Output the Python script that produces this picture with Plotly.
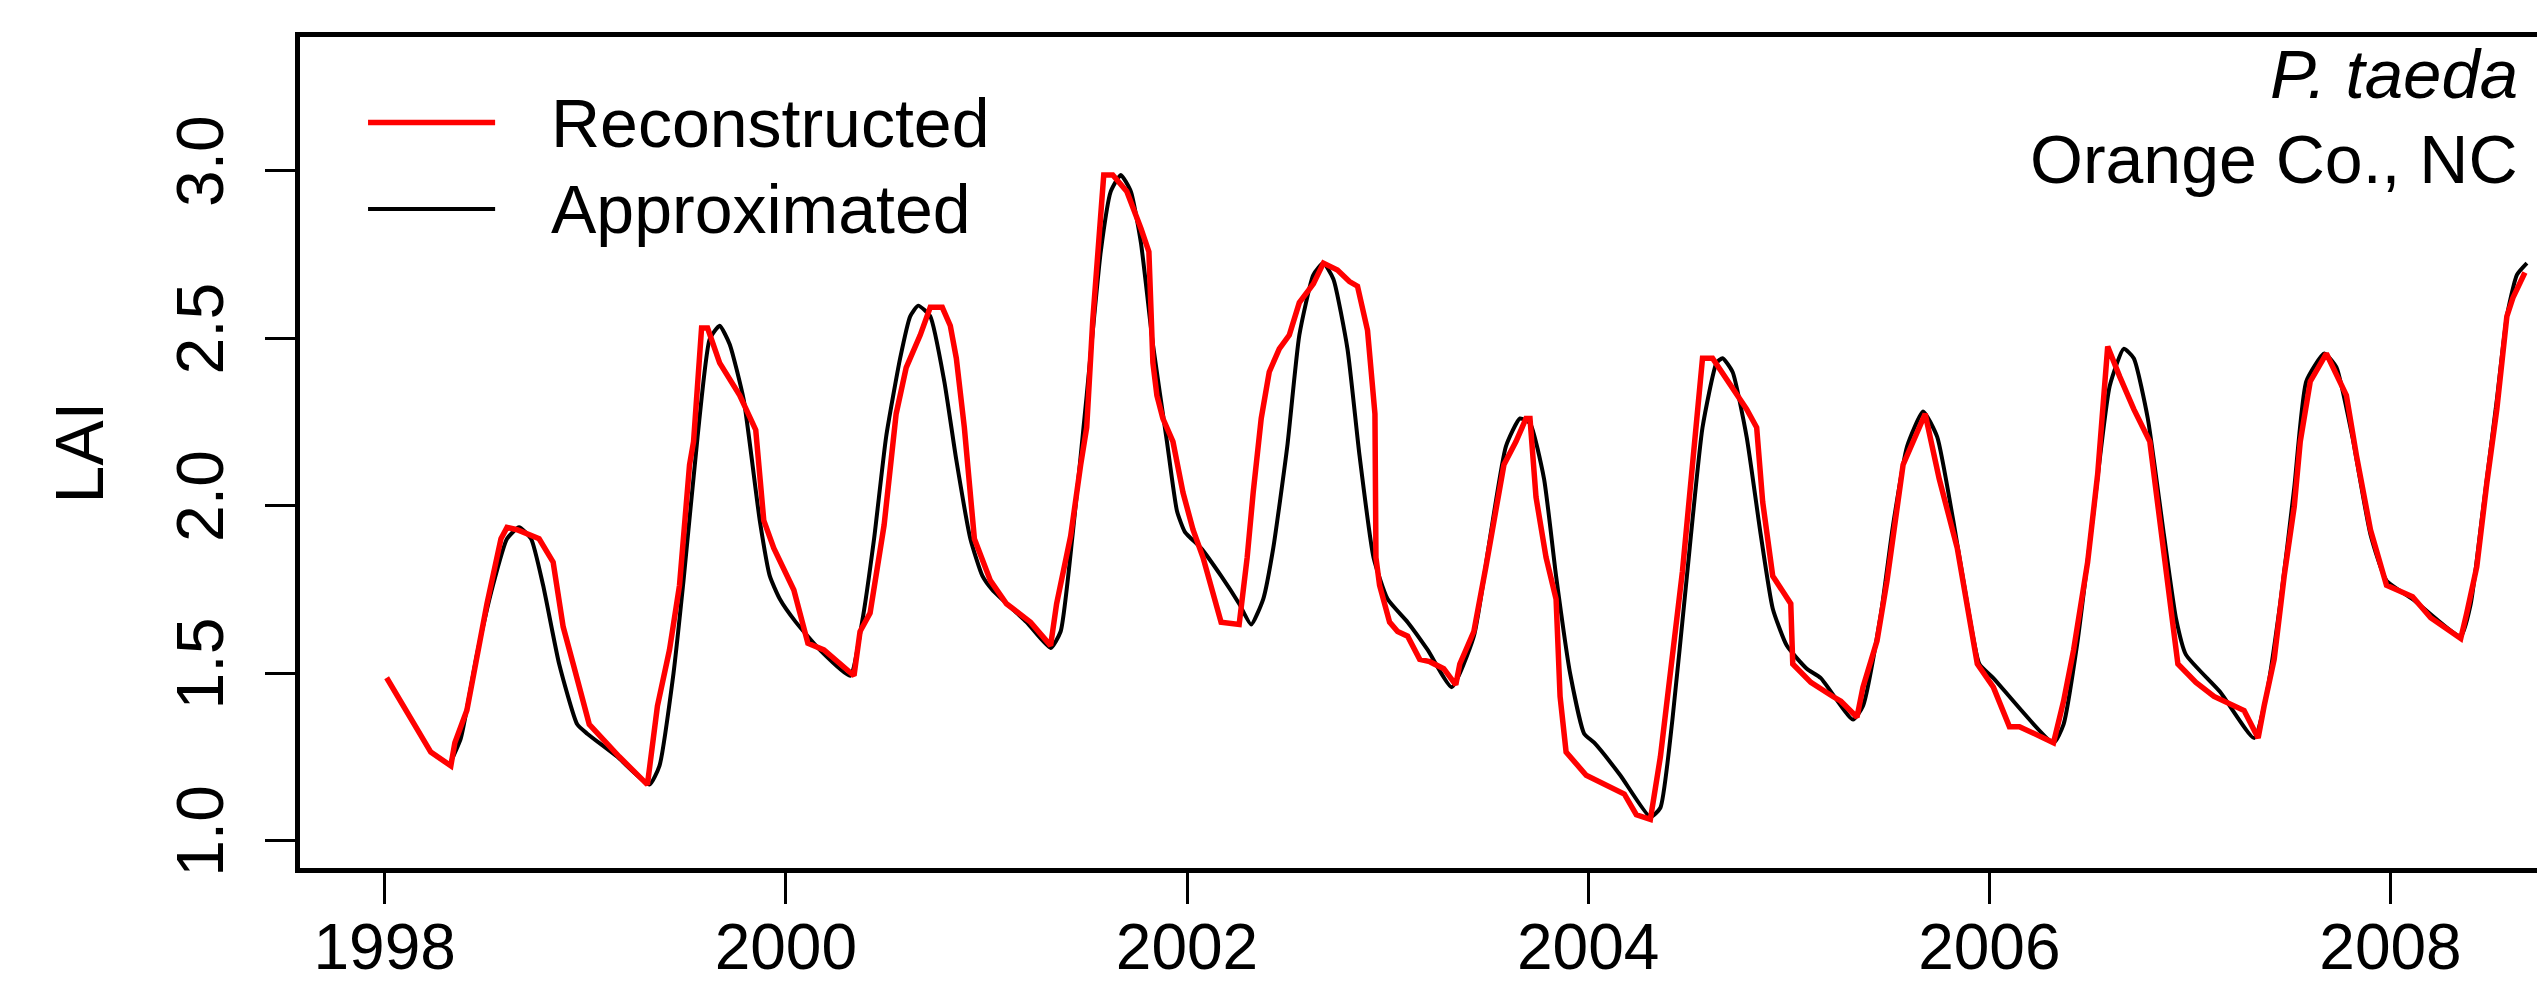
import plotly.graph_objects as go

# ---- data ----
years_ticks = [1998, 2000, 2002, 2004, 2006, 2008]
y_ticks = [1.0, 1.5, 2.0, 2.5, 3.0]
y_tick_labels = ["1.0", "1.5", "2.0", "2.5", "3.0"]

recon_year = [1998.01, 1998.12, 1998.23, 1998.33, 1998.35, 1998.41, 1998.51, 1998.58, 1998.61, 1998.66,
              1998.74, 1998.77, 1998.84, 1998.89, 1998.94, 1999.02, 1999.17, 1999.31, 1999.36, 1999.42,
              1999.47, 1999.52, 1999.54, 1999.58, 1999.61, 1999.67, 1999.77, 1999.85, 1999.89, 1999.94,
              2000.04, 2000.11, 2000.19, 2000.34, 2000.37, 2000.42, 2000.49, 2000.55, 2000.60, 2000.67,
              2000.72, 2000.78, 2000.82, 2000.85, 2000.89, 2000.94, 2001.02, 2001.10, 2001.22, 2001.32,
              2001.35, 2001.42, 2001.47, 2001.50, 2001.53, 2001.575, 2001.585, 2001.63, 2001.70, 2001.77,
              2001.81, 2001.83, 2001.85, 2001.88, 2001.93, 2001.98, 2002.03, 2002.08, 2002.13, 2002.17,
              2002.26, 2002.30, 2002.33, 2002.37, 2002.41, 2002.46, 2002.51, 2002.56, 2002.63, 2002.68,
              2002.75, 2002.81, 2002.85, 2002.90, 2002.937, 2002.942, 2002.96, 2003.01, 2003.05, 2003.10,
              2003.16, 2003.21, 2003.28, 2003.34, 2003.36, 2003.43, 2003.49, 2003.58, 2003.64, 2003.69,
              2003.71, 2003.74, 2003.79, 2003.84, 2003.86, 2003.89, 2003.99, 2004.09, 2004.18, 2004.24,
              2004.31, 2004.36, 2004.42, 2004.47, 2004.52, 2004.57, 2004.62, 2004.71, 2004.79, 2004.84,
              2004.87, 2004.92, 2005.01, 2005.02, 2005.11, 2005.22, 2005.26, 2005.34, 2005.37, 2005.44,
              2005.49, 2005.57, 2005.64, 2005.68, 2005.75, 2005.84, 2005.94, 2006.02, 2006.10, 2006.15,
              2006.32, 2006.37, 2006.42, 2006.49, 2006.54, 2006.57, 2006.59, 2006.65, 2006.72, 2006.80,
              2006.87, 2006.94, 2007.03, 2007.12, 2007.27, 2007.34, 2007.37, 2007.42, 2007.47, 2007.52,
              2007.55, 2007.60, 2007.68, 2007.78, 2007.83, 2007.90, 2007.98, 2008.11, 2008.20, 2008.35,
              2008.38, 2008.43, 2008.48, 2008.53, 2008.58, 2008.61, 2008.67]
recon_lai = [1.487, 1.376, 1.265, 1.224, 1.293, 1.390, 1.708, 1.902, 1.936, 1.929,
             1.908, 1.902, 1.832, 1.639, 1.528, 1.348, 1.251, 1.168, 1.403, 1.570,
             1.763, 2.123, 2.192, 2.531, 2.531, 2.427, 2.330, 2.227, 1.957, 1.874,
             1.749, 1.590, 1.570, 1.493, 1.625, 1.680, 1.943, 2.275, 2.413, 2.510,
             2.593, 2.593, 2.538, 2.441, 2.234, 1.902, 1.777, 1.708, 1.653, 1.583,
             1.708, 1.910, 2.123, 2.234, 2.552, 2.898, 2.988, 2.988, 2.939, 2.829,
             2.759, 2.427, 2.330, 2.261, 2.192, 2.040, 1.929, 1.846, 1.736, 1.653,
             1.646, 1.846, 2.040, 2.261, 2.400, 2.469, 2.510, 2.607, 2.663, 2.725,
             2.704, 2.670, 2.656, 2.524, 2.275, 1.846, 1.763, 1.653, 1.625, 1.611,
             1.542, 1.535, 1.514, 1.466, 1.528, 1.625, 1.818, 2.123, 2.192, 2.261,
             2.261, 2.026, 1.846, 1.722, 1.431, 1.265, 1.196, 1.168, 1.140, 1.078,
             1.064, 1.251, 1.542, 1.805, 2.123, 2.441, 2.441, 2.358, 2.289, 2.234,
             2.012, 1.791, 1.708, 1.528, 1.473, 1.431, 1.417, 1.369, 1.459, 1.597,
             1.777, 2.123, 2.220, 2.275, 2.081, 1.874, 1.528, 1.459, 1.341, 1.341,
             1.293, 1.417, 1.570, 1.832, 2.095, 2.317, 2.476, 2.386, 2.289, 2.192,
             1.846, 1.528, 1.473, 1.431, 1.389, 1.307, 1.403, 1.542, 1.791, 1.998,
             2.192, 2.372, 2.455, 2.330, 2.151, 1.929, 1.763, 1.729, 1.666, 1.604,
             1.680, 1.818, 2.068, 2.289, 2.566, 2.621, 2.697]

approx_year = [1998.32, 1998.38, 1998.46, 1998.54, 1998.61, 1998.67, 1998.73, 1998.79, 1998.87, 1998.96,
               1999.01, 1999.16, 1999.32, 1999.37, 1999.44, 1999.49, 1999.56, 1999.62, 1999.67, 1999.72,
               1999.79, 1999.87, 1999.92, 1999.97, 2000.05, 2000.17, 2000.32, 2000.38, 2000.44, 2000.50,
               2000.57, 2000.62, 2000.66, 2000.72, 2000.79, 2000.85, 2000.92, 2000.98, 2001.03, 2001.20,
               2001.32, 2001.37, 2001.43, 2001.50, 2001.57, 2001.62, 2001.67, 2001.72, 2001.77, 2001.83,
               2001.90, 2001.95, 2001.99, 2002.07, 2002.17, 2002.26, 2002.32, 2002.38, 2002.43, 2002.50,
               2002.56, 2002.63, 2002.68, 2002.73, 2002.80, 2002.86, 2002.93, 2003.00, 2003.10, 2003.20,
               2003.32, 2003.43, 2003.51, 2003.59, 2003.66, 2003.71, 2003.78, 2003.84, 2003.91, 2003.98,
               2004.03, 2004.16, 2004.31, 2004.36, 2004.42, 2004.49, 2004.57, 2004.64, 2004.67, 2004.72,
               2004.79, 2004.86, 2004.92, 2004.99, 2005.09, 2005.16, 2005.32, 2005.37, 2005.46, 2005.52,
               2005.59, 2005.67, 2005.74, 2005.82, 2005.89, 2005.95, 2006.02, 2006.32, 2006.37, 2006.44,
               2006.52, 2006.60, 2006.67, 2006.72, 2006.79, 2006.87, 2006.93, 2006.98, 2007.15, 2007.32,
               2007.38, 2007.45, 2007.52, 2007.58, 2007.67, 2007.73, 2007.81, 2007.90, 2007.98, 2008.11,
               2008.35, 2008.40, 2008.46, 2008.53, 2008.58, 2008.63, 2008.68]
approx_lai = [1.224, 1.307, 1.556, 1.763, 1.902, 1.936, 1.902, 1.763, 1.528, 1.348,
              1.320, 1.251, 1.168, 1.224, 1.500, 1.777, 2.206, 2.497, 2.538, 2.483,
              2.317, 1.957, 1.791, 1.722, 1.653, 1.570, 1.493, 1.653, 1.902, 2.206,
              2.441, 2.566, 2.598, 2.566, 2.372, 2.137, 1.902, 1.791, 1.749, 1.653,
              1.576, 1.625, 1.915, 2.330, 2.759, 2.939, 2.988, 2.939, 2.787, 2.483,
              2.192, 1.985, 1.922, 1.874, 1.791, 1.708, 1.646, 1.722, 1.874, 2.178,
              2.510, 2.690, 2.725, 2.677, 2.469, 2.151, 1.846, 1.722, 1.653, 1.570,
              1.459, 1.611, 1.902, 2.178, 2.261, 2.247, 2.081, 1.791, 1.500, 1.320,
              1.293, 1.196, 1.071, 1.099, 1.362, 1.777, 2.234, 2.427, 2.441, 2.400,
              2.206, 1.915, 1.694, 1.583, 1.514, 1.486, 1.362, 1.403, 1.680, 1.943,
              2.178, 2.282, 2.206, 1.957, 1.708, 1.528, 1.486, 1.293, 1.348, 1.597,
              1.985, 2.358, 2.469, 2.441, 2.261, 1.915, 1.666, 1.556, 1.445, 1.307,
              1.431, 1.708, 2.054, 2.372, 2.455, 2.414, 2.206, 1.915, 1.777, 1.722,
              1.611, 1.708, 1.985, 2.317, 2.566, 2.690, 2.725]

FONT = "Liberation Sans, Arial, sans-serif"
FS_TICK = 66
FS_XTICK = 64
FS_TEXT = 68

fig = go.Figure()
fig.add_trace(go.Scatter(x=approx_year, y=approx_lai, mode="lines", name="Approximated",
                         line=dict(color="black", width=4, shape="spline", smoothing=0.5),
                         showlegend=False))
fig.add_trace(go.Scatter(x=recon_year, y=recon_lai, mode="lines", name="Reconstructed",
                         line=dict(color="#ff0000", width=5.5), showlegend=False))

# manual legend (R-style long line samples)
legend_items = [("Reconstructed", "#ff0000", 0.897, 5.5), ("Approximated", "black", 0.793, 4)]
for label, col, yy, w in legend_items:
    fig.add_shape(type="line", xref="paper", yref="paper", x0=0.0302, x1=0.0866, y0=yy, y1=yy,
                  line=dict(color=col, width=w))
    fig.add_annotation(xref="paper", yref="paper", x=0.1105, y=yy, text=label, showarrow=False,
                       xanchor="left", yanchor="middle", font=dict(family=FONT, size=FS_TEXT, color="black"))

fig.add_annotation(xref="paper", yref="paper", x=0.9854, y=0.955, text="<i>P. taeda</i>", showarrow=False,
                   xanchor="right", yanchor="middle", font=dict(family=FONT, size=FS_TEXT + 1, color="black"))
fig.add_annotation(xref="paper", yref="paper", x=0.9854, y=0.853, text="Orange Co., NC", showarrow=False,
                   xanchor="right", yanchor="middle", font=dict(family=FONT, size=FS_TEXT, color="black"))

fig.update_layout(
    width=2545, height=982,
    margin=dict(l=292, r=0, t=29, b=122),
    paper_bgcolor="white", plot_bgcolor="white",
    font=dict(family=FONT, size=FS_TICK, color="black"),
    showlegend=False,
    xaxis=dict(range=[1997.578, 2008.81], tickmode="array", tickvals=years_ticks,
               ticktext=[str(v) for v in years_ticks],
               ticks="outside", ticklen=31, tickwidth=3, tickcolor="black",
               showline=True, linewidth=5, linecolor="black", mirror=True,
               showgrid=False, zeroline=False, tickfont=dict(family=FONT, size=FS_XTICK),
               ticklabelstandoff=-12, automargin=False),
    yaxis=dict(range=[0.919, 3.40], tickmode="array", tickvals=y_ticks, ticktext=y_tick_labels,
               tickangle=-90, ticks="outside", ticklen=30, tickwidth=3, tickcolor="black",
               showline=True, linewidth=5, linecolor="black", mirror=False,
               showgrid=False, zeroline=False, tickfont=dict(family=FONT, size=FS_TICK),
               ticklabelstandoff=16,
               title=dict(text="LAI", font=dict(family=FONT, size=FS_TEXT), standoff=38)),
)

fig.write_html("out.html")
